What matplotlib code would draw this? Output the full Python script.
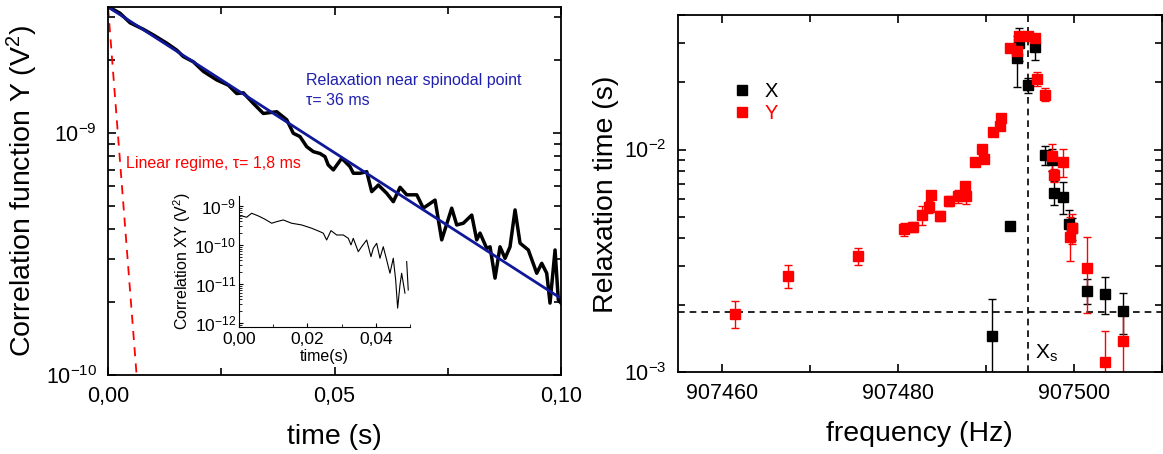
import numpy as np
import matplotlib
matplotlib.use("Agg")
import matplotlib.pyplot as plt
from matplotlib.lines import Line2D
from matplotlib.ticker import FuncFormatter, MultipleLocator, LogLocator, NullFormatter

plt.rcParams['font.family'] = ['Liberation Sans', 'DejaVu Sans']
plt.rcParams['mathtext.default'] = 'regular'

# --- left panel: correlation function Y ---
t_y = [0.0003, 0.00265, 0.00486, 0.0078, 0.0100, 0.01296, 0.01517, 0.01662, 0.01883,
       0.02104, 0.0240, 0.02656, 0.02841, 0.02987, 0.03208, 0.03428, 0.03724, 0.03945,
       0.0409, 0.04238, 0.04386, 0.04532, 0.0468, 0.0479, 0.0486, 0.04974, 0.05159,
       0.05342, 0.05415, 0.05563, 0.05711, 0.05821, 0.05967, 0.06152, 0.06298, 0.06446,
       0.06594, 0.06815, 0.0696, 0.07219, 0.07366, 0.07587, 0.07698, 0.07843, 0.08029,
       0.08139, 0.08212, 0.0836, 0.08433, 0.08543, 0.08653, 0.08764, 0.08874, 0.08985,
       0.09095, 0.09278, 0.09464, 0.09574, 0.09684, 0.09757, 0.09868, 0.0994, 0.1]
corr_y = [3.29e-9, 3.11e-9, 2.84e-9, 2.67e-9, 2.53e-9, 2.34e-9, 2.19e-9, 2.06e-9, 1.96e-9,
          1.79e-9, 1.65e-9, 1.57e-9, 1.45e-9, 1.46e-9, 1.32e-9, 1.20e-9, 1.22e-9, 1.13e-9,
          9.94e-10, 9.63e-10, 8.75e-10, 8.35e-10, 8.2e-10, 7.96e-10, 7.36e-10, 7.02e-10, 7.84e-10,
          7.24e-10, 6.80e-10, 6.80e-10, 6.90e-10, 5.71e-10, 6.08e-10, 5.62e-10, 5.19e-10, 5.95e-10,
          5.54e-10, 5.54e-10, 4.88e-10, 5.27e-10, 3.61e-10, 4.88e-10, 4.16e-10, 4.23e-10, 4.57e-10,
          3.61e-10, 3.85e-10, 3.33e-10, 3.38e-10, 2.51e-10, 3.38e-10, 3.03e-10, 3.38e-10, 4.80e-10,
          3.50e-10, 3.28e-10, 2.63e-10, 2.89e-10, 2.63e-10, 1.98e-10, 3.28e-10, 2.04e-10, 1.98e-10]

# exponential fits (straight lines on the log axis)
t_fit_slow = [0.0, 0.1]
y_fit_slow = [3.3e-9, 2.07e-10]      # tau = 36 ms
t_fit_fast = [0.0, 0.007]
y_fit_fast = [3.3e-9, 6.8e-11]       # tau = 1.8 ms

# inset: correlation XY (nan = gap in the trace)
t_xy = [0.0, 0.0008, 0.00225, 0.0037, 0.00564, 0.0076, 0.00956, 0.0110, 0.01295, 0.0154,
        0.0183, 0.02126, 0.02368, 0.02465, 0.02564, 0.0269, 0.02857, 0.0305, 0.03196, 0.03275,
        0.03342, 0.03488, 0.03588, 0.03734, 0.0386, 0.03927, 0.04026, 0.04123, 0.04219, 0.04319,
        0.04415, 0.04512, 0.04582, 0.0464, 0.04708, 0.04757, 0.04854, 0.0488, 0.04904, 0.0495]
corr_xy = [5.32e-10, 5.55e-10, 5.13e-10, 6.50e-10, 5.55e-10, 4.56e-10, 3.60e-10, 3.95e-10, 4.37e-10, 3.60e-10,
           3.26e-10, 2.68e-10, 2.19e-10, 2.0e-10, 1.34e-10, 2.33e-10, 1.80e-10, 1.80e-10, 1.48e-10, 1.0e-10,
           1.48e-10, 6.73e-11, 9.04e-11, 1.34e-10, 5.0e-11, 8.2e-11, 1.1e-10, 4.56e-11, 9.0e-11, 4.12e-11,
           1.88e-11, 4.56e-11, 1.27e-11, 2.4e-12, 9.4e-12, 1.88e-11, 5.8e-12, np.nan, 3.73e-11, 7.0e-12]

# --- right panel: relaxation time vs frequency ---
freq_x = [907490.75, 907492.76, 907493.56, 907493.76, 907494.75, 907495.58, 907496.72, 907497.56,
          907497.75, 907498.81, 907499.5, 907499.77, 907501.55, 907503.57, 907505.59]
tau_x = [1.46e-3, 4.53e-3, 2.575e-2, 3.0e-2, 1.94e-2, 2.88e-2, 9.43e-3, 9.02e-3,
         6.41e-3, 6.13e-3, 4.62e-3, 4.43e-3, 2.32e-3, 2.25e-3, 1.88e-3]
err_x = [0.67e-3, 0.0, 0.67e-2, 0.5e-2, 0.15e-2, 0.35e-2, 0.9e-3, 1.0e-3,
         0.8e-3, 1.0e-3, 0.75e-3, 0.5e-3, 0.3e-3, 0.42e-3, 0.39e-3]

freq_y = [907461.45, 907467.5, 907475.5, 907480.74, 907481.77, 907482.76, 907483.52, 907483.74,
          907484.74, 907485.77, 907486.79, 907487.59, 907487.78, 907488.77, 907489.57, 907489.8,
          907490.79, 907491.59, 907491.78, 907492.73, 907493.56, 907493.76, 907494.75, 907495.58,
          907495.78, 907496.76, 907497.56, 907497.75, 907498.81, 907499.58, 907499.77, 907501.55,
          907503.57, 907505.59]
tau_y = [1.83e-3, 2.70e-3, 3.32e-3, 4.40e-3, 4.50e-3, 5.09e-3, 5.53e-3, 6.24e-3,
         5.03e-3, 5.88e-3, 6.17e-3, 6.85e-3, 6.17e-3, 8.80e-3, 1.01e-2, 9.05e-3,
         1.205e-2, 1.272e-2, 1.386e-2, 2.855e-2, 2.77e-2, 3.22e-2, 3.22e-2, 3.18e-2,
         2.08e-2, 1.764e-2, 9.33e-3, 7.67e-3, 8.80e-3, 4.06e-3, 4.46e-3, 2.94e-3,
         1.115e-3, 1.387e-3]
err_y = [0.25e-3, 0.32e-3, 0.3e-3, 0.3e-3, 0.25e-3, 0.5e-3, 0.35e-3, 0.2e-3,
         0.25e-3, 0.3e-3, 0.4e-3, 0.2e-3, 0.45e-3, 0.2e-3, 0.2e-3, 0.3e-3,
         0.2e-3, 0.2e-3, 0.2e-3, 0.1e-2, 0.1e-2, 0.1e-2, 0.1e-2, 0.1e-2,
         0.15e-2, 0.12e-2, 1.3e-3, 0.5e-3, 1.3e-3, 0.9e-3, 0.7e-3, 1.1e-3,
         0.42e-3, 0.48e-3]

tau_linear = 1.86e-3
freq_spinodal = 907494.8

comma = FuncFormatter(lambda v, p: f"{v:.2f}".replace('.', ','))

fig = plt.figure(figsize=(11.63, 4.54), dpi=100)

# left panel
ax1 = fig.add_axes([0.0929, 0.174, 0.3895, 0.8106])
ax1.plot(t_y, corr_y, color='black', lw=2.5)
ax1.plot(t_fit_slow, y_fit_slow, color='#10189a', lw=2)
ax1.plot(t_fit_fast, y_fit_fast, color='red', lw=1.3, dashes=(5, 4))
ax1.set_yscale('log')
ax1.set_xlim(0, 0.1)
ax1.set_ylim(1e-10, 3.3e-9)
ax1.xaxis.set_major_locator(MultipleLocator(0.05))
ax1.xaxis.set_minor_locator(MultipleLocator(0.025))
ax1.xaxis.set_major_formatter(comma)
ax1.yaxis.set_major_locator(LogLocator(base=10))
ax1.yaxis.set_minor_locator(LogLocator(base=10, subs=np.arange(2, 10)))
ax1.yaxis.set_minor_formatter(NullFormatter())
ax1.tick_params(which='both', direction='in', top=True, right=True, labelsize=15.5, width=1.2)
ax1.tick_params(which='major', length=6, pad=8)
ax1.tick_params(which='minor', length=5)
for s in ax1.spines.values():
    s.set_linewidth(1.3)
ax1.set_xlabel('time (s)', fontsize=20.5, labelpad=12)
ax1.set_ylabel('Correlation function Y (V$^2$)', fontsize=20.5, labelpad=4)
ax1.text(0.0438, 1.49e-9, 'Relaxation near spinodal point\nτ= 36 ms', color='#2020b0',
         fontsize=11.5, va='center', linespacing=1.4)
ax1.text(0.004, 7.45e-10, 'Linear regime, τ= 1,8 ms', color='red', fontsize=11.5, va='center')

# inset
ax_in = fig.add_axes([0.2055, 0.2804, 0.147, 0.2879])
ax_in.plot(t_xy, corr_xy, color='black', lw=0.8)
ax_in.set_yscale('log')
ax_in.set_xlim(0, 0.05)
ax_in.set_ylim(8e-13, 1.8e-9)
ax_in.spines['top'].set_visible(False)
ax_in.spines['right'].set_visible(False)
ax_in.patch.set_alpha(0)
ax_in.xaxis.set_major_locator(MultipleLocator(0.02))
ax_in.xaxis.set_minor_locator(MultipleLocator(0.01))
ax_in.xaxis.set_major_formatter(comma)
ax_in.yaxis.set_major_locator(LogLocator(base=10, numticks=10))
ax_in.yaxis.set_minor_locator(LogLocator(base=10, subs=np.arange(2, 10), numticks=10))
ax_in.yaxis.set_minor_formatter(NullFormatter())
ax_in.tick_params(which='both', direction='in', labelsize=12.5)
ax_in.tick_params(axis='x', pad=4)
ax_in.tick_params(axis='y', pad=2)
ax_in.tick_params(which='major', length=3)
ax_in.tick_params(which='minor', length=2)
ax_in.set_xlabel('time(s)', fontsize=11.5, labelpad=1)
ax_in.set_ylabel('Correlation XY (V$^2$)', fontsize=11.5, labelpad=1)

# right panel
ax2 = fig.add_axes([0.583, 0.180, 0.4159, 0.786])
ax2.axhline(tau_linear, color='black', lw=1.2, dashes=(4, 3))
ax2.axvline(freq_spinodal, color='black', lw=1.2, dashes=(4, 3))
ax2.errorbar(freq_x, tau_x, yerr=err_x, fmt='s', color='black', ms=6.5, capsize=3,
             elinewidth=1)
ax2.errorbar(freq_y, tau_y, yerr=err_y, fmt='s', color='red', ms=6.5, capsize=3,
             elinewidth=1)
ax2.set_yscale('log')
ax2.set_xlim(907455, 907510)
ax2.set_ylim(1e-3, 0.04)
ax2.xaxis.set_major_locator(MultipleLocator(20))
ax2.xaxis.set_minor_locator(MultipleLocator(10))
ax2.xaxis.set_major_formatter(FuncFormatter(lambda v, p: f"{v:.0f}"))
ax2.yaxis.set_major_locator(LogLocator(base=10))
ax2.yaxis.set_minor_locator(LogLocator(base=10, subs=np.arange(2, 10)))
ax2.yaxis.set_minor_formatter(NullFormatter())
ax2.tick_params(which='both', direction='in', top=True, right=True, labelsize=15.5, width=1.2)
ax2.tick_params(which='major', length=6, pad=8)
ax2.tick_params(which='minor', length=5)
for s in ax2.spines.values():
    s.set_linewidth(1.3)
ax2.set_xlabel('frequency (Hz)', fontsize=20.5, labelpad=12)
ax2.set_ylabel('Relaxation time (s)', fontsize=20.5, labelpad=4)
ax2.text(907495.6, 1.22e-3, 'X$_s$', fontsize=15, va='center')
handles = [Line2D([], [], ls='none', marker='s', ms=6.5, color='black'),
           Line2D([], [], ls='none', marker='s', ms=6.5, color='red')]
leg = ax2.legend(handles, ['X', 'Y'], loc='upper left', bbox_to_anchor=(0.095, 0.835),
                 frameon=False, fontsize=14.5, handletextpad=0.6, borderaxespad=0,
                 labelspacing=0.15, handlelength=1.0)
for txt, c in zip(leg.get_texts(), ['black', 'red']):
    txt.set_color(c)

fig.savefig('out.png', dpi=100)
